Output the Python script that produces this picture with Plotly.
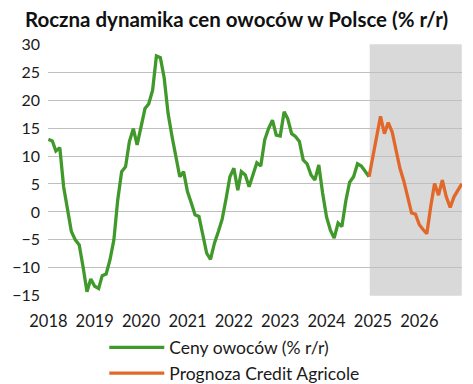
import pandas as pd
import plotly.graph_objects as go

# ---- data ----
start_month = "2018-01-01"
actual_name = "Ceny owoców (% r/r)"
forecast_name = "Prognoza Credit Agricole"

actual_values = [
    13.0, 12.7, 10.9, 11.5, 4.5, 0.5, -3.5, -5.0, -5.9, -9.8, -14.3, -12.0,   # 2018
    -13.3, -13.7, -11.4, -11.1, -8.6, -5.0, 2.1, 7.2, 8.1, 12.6, 14.9, 12.0,  # 2019
    15.5, 18.5, 19.3, 21.8, 27.9, 27.6, 24.0, 17.6, 13.5, 10.0, 6.3, 7.2,     # 2020
    3.6, 1.5, -0.5, -0.8, -4.2, -7.4, -8.5, -5.6, -3.5, -1.3, 2.4, 6.3,       # 2021
    7.8, 3.9, 7.2, 6.6, 4.5, 6.9, 8.8, 8.2, 12.9, 14.9, 16.4, 13.75,          # 2022
    13.6, 17.9, 16.7, 14.0, 13.5, 12.6, 9.3, 8.6, 6.6, 5.7, 8.4, 3.4,         # 2023
    -0.9, -3.3, -4.7, -2.0, -2.6, 2.0, 5.3, 6.3, 8.6, 8.2, 7.2, 6.3,          # 2024
]
# forecast starts at the last actual month (Dec 2024)
forecast_values = [
    6.3,                                                                     # 2024-12
    9.8, 13.5, 17.1, 14.0, 16.0, 14.3, 10.8, 7.8, 5.5, 2.5, -0.2, -0.4,      # 2025
    -2.3, -3.2, -3.9, 1.0, 5.1, 3.0, 5.7, 2.7, 0.8, 2.7, 4.0, 5.0,           # 2026
]
year_labels = ["2018", "2019", "2020", "2021", "2022", "2023", "2024", "2025", "2026"]
y_ticks = [30, 25, 20, 15, 10, 5, 0, -5, -10, -15]
forecast_shade_start = "2024-12-06"
forecast_shade_end = "2026-12-01"

actual_dates = pd.date_range(start_month, periods=len(actual_values), freq="MS")
forecast_dates = pd.date_range(actual_dates[-1], periods=len(forecast_values), freq="MS")
year_ticks = [f"{y}-01-01" for y in year_labels]

FONT = "Lato"
fig = go.Figure()
fig.add_trace(go.Scatter(x=actual_dates, y=actual_values, mode="lines", name=actual_name,
                         line=dict(color="#41992B", width=3.3)))
fig.add_trace(go.Scatter(x=forecast_dates, y=forecast_values, mode="lines", name=forecast_name,
                         line=dict(color="#E2682A", width=3.3)))

fig.add_shape(type="rect", xref="x", yref="y", x0=forecast_shade_start, x1=forecast_shade_end,
              y0=-15, y1=30, fillcolor="#d9d9d9", line=dict(width=0), layer="below")

fig.update_layout(
    width=473, height=384,
    margin=dict(l=48, r=11, t=44, b=88, autoexpand=False),
    paper_bgcolor="white", plot_bgcolor="white",
    font=dict(family=FONT, size=16, color="#1a1a1a"),
    title=dict(text="<b>Roczna dynamika cen owoców w Polsce (% r/r)</b>",
               x=0.5, xref="container", xanchor="center",
               y=0.948, yref="container", yanchor="middle",
               font=dict(family=FONT, size=20.5, color="#111")),
    showlegend=True,
    legend=dict(orientation="v", x=0.45, xanchor="center", y=-0.133, yanchor="top",
                font=dict(family=FONT, size=17.5, color="#1a1a1a"),
                itemwidth=55, tracegroupgap=0, bgcolor="rgba(0,0,0,0)"),
    xaxis=dict(range=["2017-12-29", "2026-12-03"], tickvals=year_ticks, ticktext=year_labels,
               showgrid=False, zeroline=False, showline=False, ticks="",
               tickfont=dict(family=FONT, size=16.5), ticklabelstandoff=13),
    yaxis=dict(range=[-15.05, 30.05], tickvals=y_ticks, showgrid=True, gridcolor="#bfbfbf",
               gridwidth=1.3, zeroline=False, showline=False, ticks="",
               tickfont=dict(family=FONT, size=16), ticklabelstandoff=7),
)

fig.write_html("out.html", config={"displayModeBar": False},
               post_script="document.body.style.margin='0';")
